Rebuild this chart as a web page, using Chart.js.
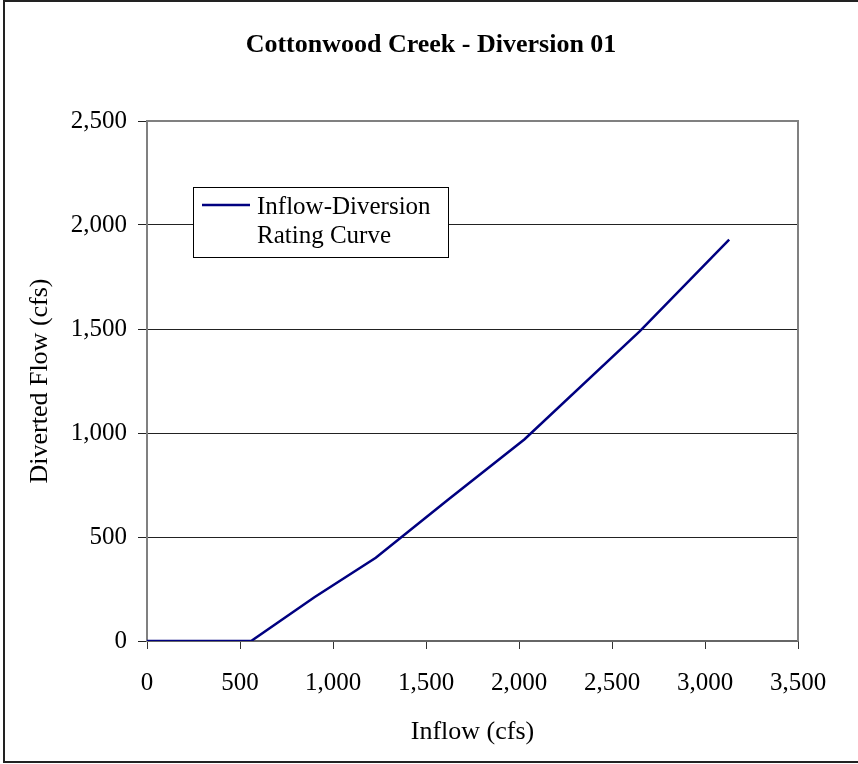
<!DOCTYPE html>
<html>
<head>
<meta charset="utf-8">
<title>Cottonwood Creek - Diversion 01</title>
<script src="https://cdn.jsdelivr.net/npm/chart.js@4/dist/chart.umd.min.js"></script>
<style>
  html, body { margin: 0; padding: 0; background: #fff; }
  #wrap { width: 858px; height: 764px; position: relative; }
</style>
</head>
<body>
<div id="wrap"><canvas id="ratingChart" width="858" height="764"></canvas></div>
<script>
// Rating curve: inflow vs. diverted flow (cfs)
const inflow   = [0, 560, 900, 1230, 1620, 2030, 2650, 3130];
const diverted = [0, 0, 210, 400, 680, 970, 1490, 1930];

const xTicks = [0, 500, 1000, 1500, 2000, 2500, 3000, 3500];
const yTicks = [0, 500, 1000, 1500, 2000, 2500];

const SERIF = "'Liberation Serif', 'Times New Roman', serif";
const fmt = v => Number(v).toLocaleString('en-US');

// frame, title, and the boxed legend drawn over the plot
const framePlugin = {
    id: 'frame',
    beforeDraw(chart) {
        const ctx = chart.ctx;
        ctx.save();
        ctx.fillStyle = '#fff';
        ctx.fillRect(0, 0, chart.width, chart.height);
        ctx.restore();
    },
    afterDraw(chart) {
        const ctx = chart.ctx;
        const a = chart.chartArea;
        ctx.save();

        // plot frame (top + right)
        ctx.strokeStyle = '#808080';
        ctx.lineWidth = 2;
        ctx.beginPath();
        ctx.moveTo(a.left, a.top);
        ctx.lineTo(a.right, a.top);
        ctx.lineTo(a.right, a.bottom);
        ctx.stroke();

        // outer border
        ctx.strokeStyle = '#222';
        ctx.lineWidth = 2;
        ctx.beginPath();
        ctx.moveTo(chart.width + 2, 1);
        ctx.lineTo(4, 1);
        ctx.lineTo(4, 762);
        ctx.lineTo(chart.width + 2, 762);
        ctx.stroke();

        // chart title
        ctx.fillStyle = '#000';
        ctx.font = 'bold 26px ' + SERIF;
        ctx.textAlign = 'center';
        ctx.textBaseline = 'middle';
        ctx.fillText('Cottonwood Creek - Diversion 01', 431, 45);

        // legend
        const ds = chart.data.datasets[0];
        ctx.fillStyle = '#fff';
        ctx.fillRect(193, 187, 255, 70);
        ctx.strokeStyle = '#000';
        ctx.lineWidth = 1;
        ctx.strokeRect(193.5, 187.5, 255, 70);
        ctx.strokeStyle = ds.borderColor;
        ctx.lineWidth = 2.5;
        ctx.beginPath();
        ctx.moveTo(202, 205);
        ctx.lineTo(250, 205);
        ctx.stroke();
        ctx.fillStyle = '#000';
        ctx.font = '25px ' + SERIF;
        ctx.textAlign = 'left';
        ctx.textBaseline = 'alphabetic';
        ds.label.forEach((line, i) => ctx.fillText(line, 257, 214 + i * 29));

        ctx.restore();
    }
};

new Chart(document.getElementById('ratingChart'), {
    type: 'scatter',
    data: {
        datasets: [{
            label: ['Inflow-Diversion', 'Rating Curve'],
            data: inflow.map((x, i) => ({ x: x, y: diverted[i] })),
            showLine: true,
            borderColor: '#000080',
            borderWidth: 2.5,
            pointRadius: 0,
            fill: false,
            tension: 0
        }]
    },
    options: {
        responsive: false,
        animation: false,
        layout: { padding: { top: 121, right: 60, left: 0, bottom: 0 } },
        plugins: {
            legend: { display: false },
            tooltip: { enabled: false }
        },
        scales: {
            x: {
                type: 'linear',
                min: 0,
                max: 3500,
                afterFit: s => { s.height = 123; },
                afterBuildTicks: s => { s.ticks = xTicks.map(v => ({ value: v })); },
                ticks: {
                    color: '#000',
                    padding: 19,
                    maxRotation: 0,
                    font: { family: SERIF, size: 25 },
                    callback: fmt
                },
                grid: {
                    drawOnChartArea: false,
                    drawTicks: true,
                    tickLength: 8,
                    color: '#333'
                },
                border: { color: '#666', width: 2 },
                title: {
                    display: true,
                    text: 'Inflow (cfs)',
                    color: '#000',
                    font: { family: SERIF, size: 26 },
                    padding: { top: 0, bottom: 16 }
                }
            },
            y: {
                type: 'linear',
                min: 0,
                max: 2500,
                afterFit: s => { s.width = 147; },
                afterBuildTicks: s => { s.ticks = yTicks.map(v => ({ value: v })); },
                ticks: {
                    color: '#000',
                    padding: 11,
                    font: { family: SERIF, size: 25 },
                    callback: fmt
                },
                grid: {
                    color: '#222',
                    lineWidth: 1,
                    tickLength: 9
                },
                border: { color: '#808080', width: 2 },
                title: {
                    display: true,
                    text: 'Diverted Flow (cfs)',
                    color: '#000',
                    font: { family: SERIF, size: 26 },
                    padding: { top: 25, bottom: 0 }
                }
            }
        }
    },
    plugins: [framePlugin]
});
</script>
</body>
</html>
